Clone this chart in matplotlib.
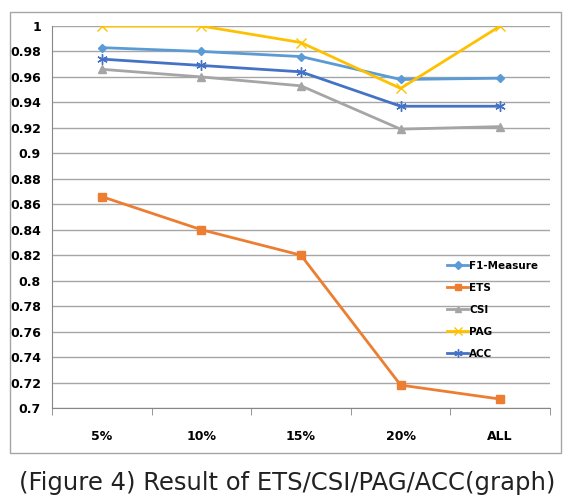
import matplotlib.pyplot as plt
from matplotlib.patches import Rectangle

categories = ['5%', '10%', '15%', '20%', 'ALL']
f1_measure = [0.983, 0.980, 0.976, 0.958, 0.959]
ets = [0.866, 0.840, 0.820, 0.718, 0.707]
csi = [0.966, 0.960, 0.953, 0.919, 0.921]
pag = [1.000, 1.000, 0.987, 0.951, 1.000]
acc = [0.974, 0.969, 0.964, 0.937, 0.937]
y_ticks = [0.7, 0.72, 0.74, 0.76, 0.78, 0.8, 0.82, 0.84, 0.86, 0.88,
           0.9, 0.92, 0.94, 0.96, 0.98, 1]


def main():
    fig = plt.figure(figsize=(5.75, 5.03), dpi=100)
    W, H = 575, 503

    # outer chart frame
    fig.patches.append(Rectangle((10 / W, 1 - 453 / H), 551 / W, 441 / H,
                                 transform=fig.transFigure, fill=False,
                                 edgecolor='#A6A6A6', linewidth=1.0))

    ax = fig.add_axes([52 / W, 1 - 408 / H, 498 / W, 382 / H])
    x = list(range(len(categories)))

    ax.plot(x, f1_measure, color='#5B9BD5', marker='D', markersize=4.5,
            linewidth=2, label='F1-Measure')
    ax.plot(x, ets, color='#ED7D31', marker='s', markersize=5.5,
            linewidth=2, label='ETS')
    ax.plot(x, csi, color='#A5A5A5', marker='^', markersize=5.5,
            linewidth=2, label='CSI')
    ax.plot(x, pag, color='#FFC000', marker='x', markersize=6.5,
            markeredgewidth=1, linewidth=2, label='PAG')
    ax.plot(x, acc, color='#4472C4', marker=(6, 2, 0), markersize=7.5,
            markeredgewidth=1, linewidth=2, label='ACC')

    ax.set_xlim(-0.5, len(categories) - 0.5)
    ax.set_ylim(0.7, 1.0)
    ax.set_yticks(y_ticks)
    ax.set_yticklabels([f'{v:g}' for v in y_ticks], fontsize=9,
                       fontweight='bold')
    ax.set_xticks(x)
    ax.set_xticklabels(categories, fontsize=9, fontweight='bold')
    ax.set_xticks([i - 0.5 for i in range(len(categories) + 1)], minor=True)
    ax.tick_params(axis='x', which='major', length=0, pad=16)
    ax.tick_params(axis='x', which='minor', length=5, color='#868686',
                   direction='out')
    ax.tick_params(axis='y', length=0, pad=8)

    ax.grid(axis='y', color='#A6A6A6', linewidth=1)
    ax.set_axisbelow(True)
    for side in ['top', 'right']:
        ax.spines[side].set_visible(False)
    ax.spines['left'].set_color('#868686')
    ax.spines['bottom'].set_color('#868686')

    ax.legend(loc='upper left', bbox_to_anchor=(0.775, 0.41),
              frameon=False, prop={'size': 7.5, 'weight': 'bold'},
              handlelength=2.0, handletextpad=0.1, labelspacing=1.15,
              markerscale=0.8)

    fig.text(0.5, 1 - 483 / H, '(Figure 4) Result of ETS/CSI/PAG/ACC(graph)',
             ha='center', va='center', fontsize=17.5, color='#222222')

    fig.savefig('out.png', dpi=100)


if __name__ == '__main__':
    main()
